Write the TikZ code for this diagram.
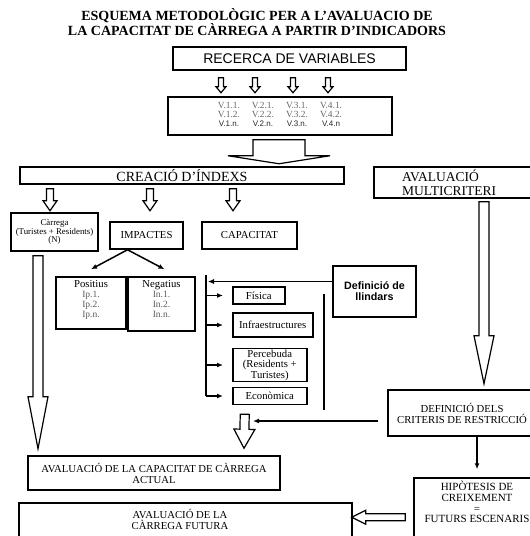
\documentclass[tikz,border=0pt]{standalone}
\usepackage{fontspec}
\setmainfont{Liberation Serif}
\setsansfont{Liberation Sans}
\usepackage{array}
\usepackage{tikz}
\usetikzlibrary{arrows.meta, positioning, calc}

\newcommand{\vn}[1]{\textcolor{black!85}{\sffamily\fontsize{8}{9}\selectfont #1}}
% hollow block arrow: from, to, half shaft, half head, head length
\newcommand{\blockarrow}[5]{%
  \coordinate (ba-a) at #1;
  \coordinate (ba-b) at #2;
  \coordinate (ba-c) at ($(ba-b)!#5!(ba-a)$);
  \draw[hollow] ($(ba-a)!#3!90:(ba-b)$) -- ($(ba-c)!#3!90:(ba-b)$) -- ($(ba-c)!#4!90:(ba-b)$)
    -- (ba-b) -- ($(ba-c)!#4!-90:(ba-b)$) -- ($(ba-c)!#3!-90:(ba-b)$) -- ($(ba-a)!#3!-90:(ba-b)$) -- cycle;}

\begin{document}
\begin{tikzpicture}[x=1pt, y=-1pt,
    box/.style={draw, line width=1.5pt, align=center, inner sep=2pt, font=\fontsize{10.7}{11}\selectfont},
    txt/.style={align=center, font=\fontsize{10.7}{11}\selectfont},
    hollow/.style={draw, line width=1.2pt, fill=white},
    conn/.style={line width=1.2pt, -{Latex[length=6pt,width=5pt]}},
    bar/.style={line width=1.8pt}]
    \useasboundingbox (0,0) rectangle (530,536);
    \clip (0,0) rectangle (530,536);

    \node[font=\bfseries\fontsize{14}{14}\selectfont, align=center] (title) at (257,22)
        {ESQUEMA METODOLÒGIC PER A L’AVALUACIO DE\\LA CAPACITAT DE CÀRREGA A PARTIR D’INDICADORS};

    % top part
    \node[box, font=\sffamily\fontsize{14}{14}\selectfont, minimum width=233pt, minimum height=23pt] (recerca) at (289.5,58.5) {RECERCA DE VARIABLES};
    \node[box, minimum width=224pt, minimum height=38pt] (vars) at (280,116)
        {\fontsize{9.4}{9}\selectfont\setlength{\tabcolsep}{6pt}%
        \begin{tabular}{@{}*{4}{>{\color{black!60}}c}@{}}
            V.1.1. & V.2.1. & V.3.1. & V.4.1.\\
            V.1.2. & V.2.2. & V.3.2. & V.4.2.\\
            \vn{V.1.n.} & \vn{V.2.n.} & \vn{V.3.n.} & \vn{V.4.n}
        \end{tabular}};
    \node[box, font=\fontsize{14}{14}\selectfont, inner sep=0pt, minimum width=324pt, minimum height=17pt] (creacio) at (182,175.5) {CREACIÓ D’ÍNDEXS};
    \node[box, font=\fontsize{13.5}{14}\selectfont, align=left, text width=110pt, inner xsep=28pt, minimum height=31pt] (multi) at (457,182.5) {AVALUACIÓ\\MULTICRITERI};

    % indexes
    \node[box, font=\fontsize{8.8}{8.5}\selectfont, minimum width=87pt, minimum height=38pt] (carrega) at (54.5,232) {Càrrega\\(Turistes + Residents)\\(N)};
    \node[box, minimum width=73pt, minimum height=27pt] (impactes) at (146.5,235.5) {IMPACTES};
    \node[box, minimum width=95pt, minimum height=27pt] (capacitat) at (249.5,235.5) {CAPACITAT};
    \node[box, minimum width=70pt, minimum height=52pt] (positius) at (91,303) {};
    \node[box, minimum width=67pt, minimum height=54pt] (negatius) at (161.5,304) {};
    \node[txt, anchor=north, font=\fontsize{9.5}{9.8}\selectfont] (positius-t) at ([yshift=-1pt]positius.north)
        {{\fontsize{10.7}{11}\selectfont Positius}\\\textcolor{black!65}{Ip.1.}\\\textcolor{black!65}{Ip.2.}\\\textcolor{black!65}{Ip.n.}};
    \node[txt, anchor=north, font=\fontsize{9.5}{9.8}\selectfont] (negatius-t) at ([yshift=-1pt]negatius.north)
        {{\fontsize{10.7}{11}\selectfont Negatius}\\\textcolor{black!65}{In.1.}\\\textcolor{black!65}{In.2.}\\\textcolor{black!65}{In.n.}};

    \node[box, anchor=west, minimum width=52pt, minimum height=17pt] (fisica) at (232,295.5) {Física};
    \node[box, anchor=west, minimum width=80pt, minimum height=24pt] (infra) at (232,325) {Infraestructures};
    \node[box, anchor=west, inner sep=1pt, font=\fontsize{10.7}{10.5}\selectfont, minimum width=74pt, minimum height=32pt] (percebuda) at (232,365) {Percebuda\\(Residents +\\Turistes)};
    \node[box, anchor=west, minimum width=74pt, minimum height=17pt] (economica) at (232,396) {Econòmica};
    \node[box, font=\sffamily\bfseries\fontsize{10.7}{11}\selectfont, minimum width=83pt, minimum height=51pt] (llindars) at (374.5,291.5) {Definició de\\llindars};

    % lower part
    \node[box, minimum width=148pt, minimum height=46pt] (criteris) at (462,413) {DEFINICIÓ DELS\\CRITERIS DE RESTRICCIÓ};
    \node[box, minimum width=252pt, minimum height=34pt] (actual) at (154,473) {AVALUACIÓ DE LA CAPACITAT DE CÀRREGA\\ACTUAL};
    \node[box, minimum width=126pt, minimum height=82pt] (hipo) at (477,519) {};
    \node[txt, font=\fontsize{11}{10.7}\selectfont] (hipo-t) at ([yshift=-25pt]hipo.north) {HIPÒTESIS DE\\CREIXEMENT\\=\\FUTURS ESCENARIS};
    \node[box, minimum width=333pt, minimum height=57pt] (futura) at (185.5,531.5) {};
    \node[txt] (futura-t) at ([xshift=-5.5pt,yshift=-17pt]futura.north) {AVALUACIÓ DE LA\\CÀRREGA FUTURA};

    % block arrows
    \foreach \x in {221,255,293,328} {
        \blockarrow{($(recerca.south -| \x,0)+(0,7)$)}{($(recerca.south -| \x,0)+(0,22)$)}{2.5pt}{5pt}{6pt}
    }
    \blockarrow{($(vars.south)+(-1,4)$)}{($(vars.south)+(-1,28)$)}{26pt}{51pt}{8pt}
    \foreach \x in {50,150,233} {
        \blockarrow{($(creacio.south -| \x,0)+(0,4)$)}{($(creacio.south -| \x,0)+(0,26)$)}{3.5pt}{7pt}{10pt}
    }
    \blockarrow{($(carrega.south)+(-16.5,4)$)}{($(carrega.south)+(-16.5,197)$)}{5pt}{10pt}{52pt}
    \blockarrow{($(multi.south)+(27,3)$)}{($(multi.south)+(27,185)$)}{5pt}{10pt}{48pt}
    \blockarrow{($(economica.south)+(-25,9)$)}{($(actual.north)+(90,-7)$)}{4.5pt}{10.5pt}{19pt}
    \blockarrow{($(hipo.north west)+(-8,40)$)}{($(futura.north east)+(-1,15)$)}{3.5pt}{7pt}{14pt}

    % connectors
    \draw[conn, line width=1.5pt] ([xshift=-19pt]impactes.south) -- ([yshift=7pt]positius.north);
    \draw[conn, line width=1.5pt] ([xshift=-19pt]impactes.south) -- ([xshift=3pt,yshift=7pt]negatius.north);

    \coordinate (brtop) at (206,275);
    \coordinate (lltip) at (208,281.5);
    \draw[bar] (brtop) -- (brtop |- economica.west);
    \draw[conn, line width=0.9pt] ([yshift=10pt]llindars.west) -- (lltip);
    \foreach \b in {fisica, infra, percebuda, economica}
        \draw[conn] (brtop |- \b.west) -- ([xshift=-9pt]\b.west);

    \coordinate (rline) at (324,294);
    \draw[bar] (rline) -- ++(0,116);

    \coordinate (captip) at (253,421);
    \draw[conn, line width=1.5pt] ([xshift=-9pt,yshift=-8pt]criteris.west) -- (captip);
    \draw[conn, line width=1.5pt] (criteris.south -| hipo.north) -- ([yshift=8pt]hipo.north);
\end{tikzpicture}
\end{document}
